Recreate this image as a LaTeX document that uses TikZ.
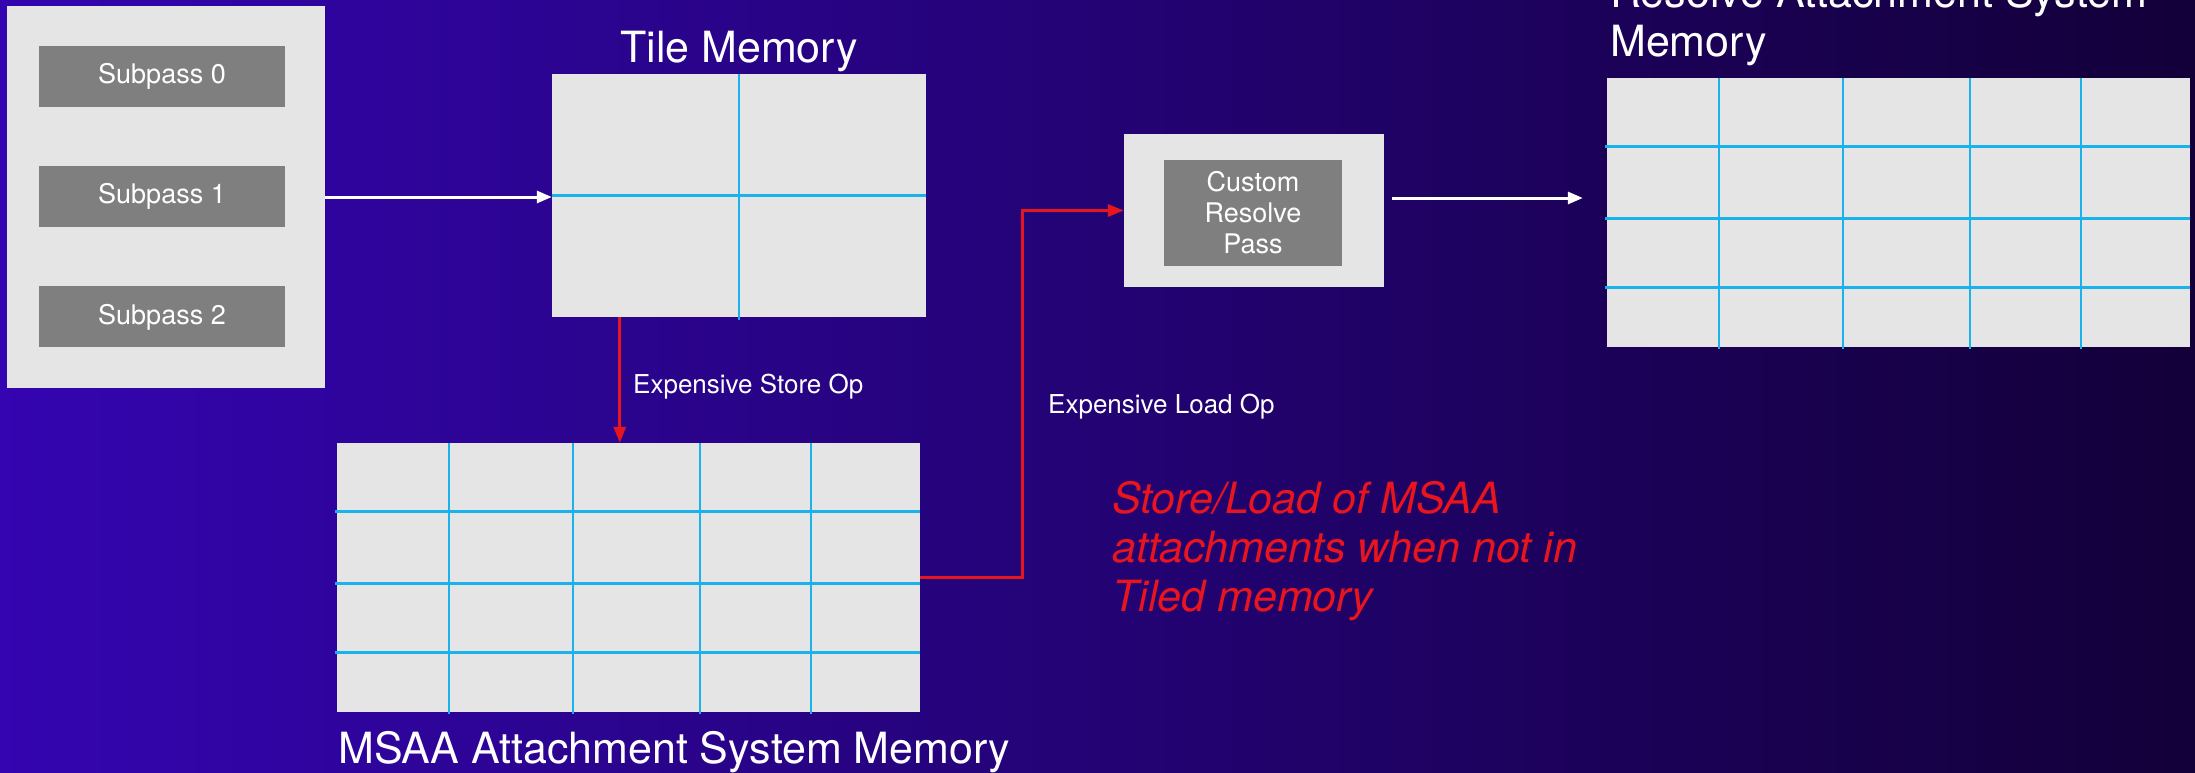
\documentclass[tikz,border=0pt]{standalone}
\usepackage{fontspec}
\setmainfont{TeX Gyre Heros}
\usetikzlibrary{arrows.meta,positioning,calc}
\definecolor{bgleft}{HTML}{3405B0}
\definecolor{bgright}{HTML}{130039}
\definecolor{panelgrey}{HTML}{E5E5E5}
\definecolor{passgrey}{HTML}{7F7F7F}
\definecolor{gridblue}{HTML}{1AB2EA}
\definecolor{costred}{HTML}{E8141E}
\tikzset{
    panel/.style={
        fill=panelgrey, inner sep=0pt
    },
    pass/.style={
        fill=passgrey, text=white, inner sep=0pt, align=center,
        font=\fontsize{27}{31}\selectfont
    },
    title/.style={
        text=white, inner sep=0pt, align=left,
        font=\fontsize{43}{49}\selectfont
    },
    oplabel/.style={
        text=white, inner sep=0pt,
        font=\fontsize{26}{31}\selectfont
    },
    flow/.style={
        draw=white, line width=3pt, -{Triangle[length=15pt,width=12pt]}
    },
    costly/.style={
        draw=costred, line width=3pt, -{Triangle[length=16pt,width=12pt]}
    },
    hline/.style={gridblue, line width=3pt},
    vline/.style={gridblue, line width=2pt}
}

\begin{document}
\begin{tikzpicture}[x=1pt, y=-1pt]

\useasboundingbox (0,0) rectangle (2195,773);
\shade[left color=bgleft, right color=bgright] (0,0) rectangle (2195,773);

% subpass stack
\node[panel, minimum width=318pt, minimum height=382pt] (stack) at (166,197) {};
\node[pass, minimum width=246pt, minimum height=61pt] (sub1) at (162,196.5) {Subpass 1};
\node[pass, minimum width=246pt, minimum height=61pt, above=59pt of sub1] (sub0) {Subpass 0};
\node[pass, minimum width=246pt, minimum height=61pt, below=59pt of sub1] (sub2) {Subpass 2};

% tile memory, 2x2
\node[panel, minimum width=374pt, minimum height=243pt] (tile) at (739,195.5) {};
\draw[vline] (tile.north) -- ([yshift=-3pt]tile.south);
\draw[hline] (tile.west) -- (tile.east);
\node[title, anchor=base] (tiletitle) at (739,63) {Tile Memory};

% system memory, 5x4
\node[panel, minimum width=583pt, minimum height=269pt] (msaa) at (628.5,577.5) {};
\node[panel, minimum width=583pt, minimum height=269pt] (rsv) at (1898.5,212.5) {};
\foreach \g in {msaa,rsv} {
  \foreach \dx in {112,236,363,474}
    \draw[vline] ($(\g.north west)+(\dx,0)$) -- ($(\g.south west)+(\dx,2)$);
  \foreach \dy in {69,141,210}
    \draw[hline] ($(\g.north west)+(-2,\dy)$) -- ($(\g.north east)+(0,\dy)$);
}
\node[title, anchor=base west] (msaatitle) at (338,763) {MSAA Attachment System Memory};
% base of a multi-line node sits on its last line
\node[title, anchor=base west] (rsvtitle) at (1610,57) {Resolve Attachment System\\Memory};

% resolve pass
\node[panel, minimum width=260pt, minimum height=153pt] (resolve) at (1254,210.5) {};
\node[pass, minimum width=178pt, minimum height=106pt] (custom) at (1253,213) {Custom\\Resolve\\Pass};

% connectors
\draw[flow] (stack.east) -- (stack.east -| tile.west);
\draw[flow] ($(resolve.east)+(8,-12.5)$) -- ($(rsv.west)+(-24,-14.5)$);

\coordinate (storeat) at ($(tile.south west)+(68,0)$);
\draw[costly] (storeat) -- (storeat |- msaa.north);
\draw[costly] (msaa.east) -- ++(102,0) |- (resolve.west);

\node[oplabel, anchor=base west] (storelab) at (633,393) {Expensive Store Op};
\node[oplabel, anchor=base west] (loadlab) at (1048,413) {Expensive Load Op};
\node[title, text=costred, font=\fontsize{43}{49}\selectfont\itshape, anchor=base west] (note)
  at (1112,611) {Store/Load of MSAA\\attachments when not in\\Tiled memory};

\end{tikzpicture}
\end{document}
